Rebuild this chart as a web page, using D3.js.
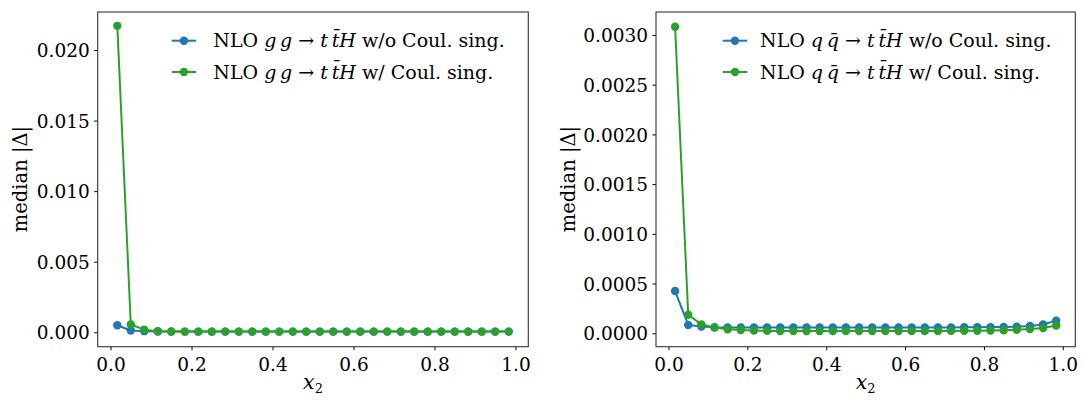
<!DOCTYPE html>
<html><head><meta charset="utf-8">
<script src="https://cdn.jsdelivr.net/npm/d3@7"></script>
<style>
body{margin:0;background:#fff;}
svg{display:block;}
text{font-family:"DejaVu Serif",serif;fill:#000;}
</style></head>
<body><svg id="c" width="1083" height="403"></svg>
<script>
const xBins = [0.0167,0.05,0.0833,0.1167,0.15,0.1833,0.2167,0.25,0.2833,0.3167,0.35,0.3833,0.4167,0.45,0.4833,0.5167,0.55,0.5833,0.6167,0.65,0.6833,0.7167,0.75,0.7833,0.8167,0.85,0.8833,0.9167,0.95,0.9833];

const ggWithout = [0.00050,0.00013,0.00008,0.00006,0.00005,0.00005,0.00005,0.00005,0.00005,0.00005,0.00005,0.00005,0.00005,0.00005,0.00005,0.00005,0.00005,0.00005,0.00005,0.00005,0.00005,0.00005,0.00005,0.00005,0.00005,0.00005,0.00005,0.00005,0.00005,0.00005];
const ggWith = [0.02171,0.00055,0.00019,0.00008,0.00006,0.00005,0.00005,0.00005,0.00005,0.00005,0.00005,0.00005,0.00005,0.00005,0.00005,0.00005,0.00005,0.00005,0.00005,0.00005,0.00005,0.00005,0.00005,0.00005,0.00005,0.00005,0.00005,0.00005,0.00005,0.00005];

const qqWithout = [0.000425,0.000084,0.000067,0.000060,0.000059,0.000058,0.000058,0.000058,0.000058,0.000058,0.000058,0.000058,0.000058,0.000058,0.000058,0.000058,0.000058,0.000058,0.000058,0.000058,0.000059,0.000059,0.000060,0.000061,0.000062,0.000064,0.000066,0.000074,0.000088,0.000127];
const qqWith = [0.003083,0.000187,0.000090,0.000057,0.000040,0.000032,0.000027,0.000024,0.000022,0.000022,0.000022,0.000022,0.000022,0.000022,0.000022,0.000022,0.000022,0.000022,0.000022,0.000022,0.000023,0.000024,0.000025,0.000026,0.000028,0.000031,0.000035,0.000042,0.000052,0.000078];

const xTicks = [0,0.2,0.4,0.6,0.8,1.0];
const ggYTicks = [0,0.005,0.01,0.015,0.02];
const qqYTicks = [0,0.0005,0.001,0.0015,0.002,0.0025,0.003];

const seriesNames = ["w/o Coul. sing.","w/ Coul. sing."];
const colors = ["#1f77b4","#2ca02c"];

const svg = d3.select("#c");
const FS = 18.5;
const LFS = 19;

function panel(opt){
  const g = svg.append("g");
  const x = d3.scaleLinear().domain([-0.0317,1.0317]).range([opt.left,opt.right]);
  const y = d3.scaleLinear().domain(opt.ydom).range([346.7,12]);
  const ax = g.append("g").attr("transform",`translate(0,346.7)`)
    .call(d3.axisBottom(x).tickValues(xTicks).tickFormat(d3.format(".1f")).tickSize(3.5).tickPadding(4.5));
  const ay = g.append("g").attr("transform",`translate(${opt.left},0)`)
    .call(d3.axisLeft(y).tickValues(opt.yticks).tickFormat(d3.format(opt.yfmt)).tickSize(3.5).tickPadding(4.5));
  [ax,ay].forEach(a=>{
    a.select(".domain").remove();
    a.selectAll("line").attr("stroke","#000").attr("stroke-width",1);
    a.selectAll("text").attr("font-family","DejaVu Serif").attr("font-size",FS).attr("fill","#000");
  });
  ay.selectAll("text").attr("dy","0.36em");
  ax.selectAll("text").attr("dy","0.9em");
  g.append("rect").attr("x",opt.left).attr("y",12).attr("width",opt.right-opt.left).attr("height",334.7)
    .attr("fill","none").attr("stroke","#333").attr("stroke-width",1.1);

  const line = d3.line().x((d,i)=>x(xBins[i])).y(d=>y(d));
  opt.series.forEach((s,k)=>{
    g.append("path").datum(s).attr("d",line).attr("fill","none")
      .attr("stroke",colors[k]).attr("stroke-width",2).attr("stroke-linejoin","round");
    g.append("g").selectAll("circle").data(s).join("circle")
      .attr("cx",(d,i)=>x(xBins[i])).attr("cy",d=>y(d)).attr("r",4.2).attr("fill",colors[k]);
  });

  seriesNames.forEach((nm,k)=>{
    const ly = 40.7 + k*31.3;
    g.append("line").attr("x1",opt.legX).attr("x2",opt.legX+24.5).attr("y1",ly).attr("y2",ly)
      .attr("stroke",colors[k]).attr("stroke-width",2);
    g.append("circle").attr("cx",opt.legX+12.25).attr("cy",ly).attr("r",4.2).attr("fill",colors[k]);
    const t = g.append("text").attr("x",opt.legTextX).attr("y",ly+6.5).attr("font-size",LFS);
    t.append("tspan").text("NLO ");
    t.append("tspan").attr("font-style","italic").text(opt.proc);
    t.append("tspan").text(" \u2192 ");
    t.append("tspan").attr("font-style","italic").text("t\u2009t\u0304H");
    t.append("tspan").text(" " + nm);
  });

  const xl = g.append("text").attr("x",(opt.left+opt.right)/2).attr("y",389).attr("text-anchor","middle").attr("font-size",FS+2);
  xl.append("tspan").attr("font-style","italic").text("x");
  xl.append("tspan").attr("font-size",13).attr("dy",4).text("2");
  g.append("text").attr("transform",`translate(${opt.ylabX},179) rotate(-90)`).attr("text-anchor","middle")
    .attr("font-size",FS+1).text("median |\u0394|");
}

panel({left:97.7,right:528.3,ydom:[-0.00102,0.02269],yticks:ggYTicks,yfmt:".3f",
  series:[ggWithout,ggWith],proc:"g\u2009g",legX:171.7,legTextX:213.3,ylabX:27});
panel({left:656,right:1075.3,ydom:[-0.000135,0.003231],yticks:qqYTicks,yfmt:".4f",
  series:[qqWithout,qqWith],proc:"q\u2009q\u0304",legX:722.7,legTextX:760,ylabX:575});
</script></body></html>
